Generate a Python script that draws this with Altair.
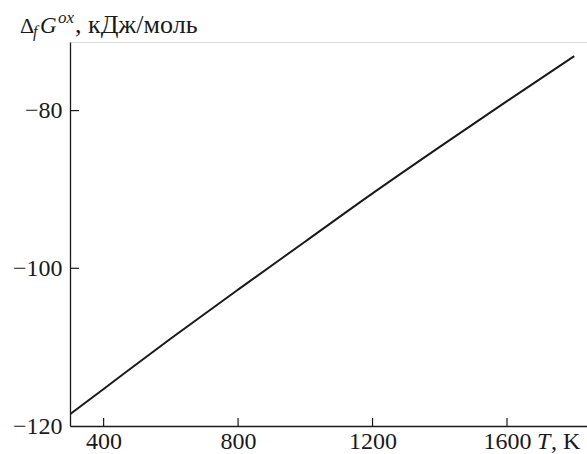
import altair as alt
import pandas as pd

# Data
T = [300, 400, 600, 800, 1000, 1200, 1400, 1600, 1800]
G = [-118.5, -115.3, -108.9, -102.7, -96.6, -90.5, -84.6, -78.8, -73.1]
x_ticks = [400, 800, 1200, 1600]
y_ticks = [-120, -100, -80]

FONT = "Liberation Serif"
W, H = 517, 384
XDOM = [300, 1838]
YDOM = [-120, -71.3]

df = pd.DataFrame({"T": T, "G": G})
xt = pd.DataFrame({"t": x_ticks})
yt = pd.DataFrame({"v": [v for v in y_ticks if v != -120]})

xs = alt.Scale(domain=XDOM, nice=False, zero=False)
ys = alt.Scale(domain=YDOM, nice=False, zero=False)

line = alt.Chart(df).mark_line(color="#1a1a1a", strokeWidth=2, clip=True,
                               interpolate="monotone").encode(
    x=alt.X("T:Q", scale=xs, axis=alt.Axis(
        values=x_ticks, title=None, ticks=False, grid=False, domainColor="#1a1a1a",
        domainWidth=1.3, labelFont=FONT, labelFontSize=24, labelColor="#1a1a1a",
        labelPadding=3, format="d", labelFlush=False)),
    y=alt.Y("G:Q", scale=ys, axis=alt.Axis(
        values=y_ticks, title=None, ticks=False, grid=False, domainColor="#1a1a1a",
        domainWidth=1.3, labelFont=FONT, labelFontSize=24, labelColor="#1a1a1a",
        labelPadding=8, format="d", labelFlush=False)),
)

xtick = alt.Chart(xt).mark_rule(color="#1a1a1a", strokeWidth=1.2).encode(
    x=alt.X("t:Q", scale=xs), y=alt.value(H - 8), y2=alt.value(H))
ytick = alt.Chart(yt).mark_rule(color="#1a1a1a", strokeWidth=1.2).encode(
    y=alt.Y("v:Q", scale=ys), x=alt.value(0), x2=alt.value(9))

def txt(s, x, y, size, style="normal", align="left"):
    return alt.Chart(pd.DataFrame({"s": [s]})).mark_text(
        font=FONT, fontSize=size, fontStyle=style, align=align, baseline="alphabetic",
        color="#1a1a1a").encode(text="s:N", x=alt.value(x), y=alt.value(y))

ox = -70
oy = -42
title = [
    txt("Δ", 20 + ox, 33 + oy, 22),
    txt("f", 33 + ox, 37 + oy, 16, "italic"),
    txt("G", 40 + ox, 33 + oy, 23, "italic"),
    txt("ox", 58 + ox, 23 + oy, 17, "italic"),
    txt(", кДж/моль", 75 + ox, 33 + oy, 26),
    txt("T", 537 - 70, 449 - 42, 24, "italic"),
    txt(", K", 551 - 70, 449 - 42, 24),
]

chart = alt.layer(line, xtick, ytick, *title).properties(
    width=W, height=H,
    autosize=alt.AutoSizeParams(type="none"),
    padding={"left": 70, "top": 42, "right": 0, "bottom": 28},
).configure_view(stroke=None).configure(background="white")

chart.save("out.html", embed_options={"renderer": "svg", "actions": False})
